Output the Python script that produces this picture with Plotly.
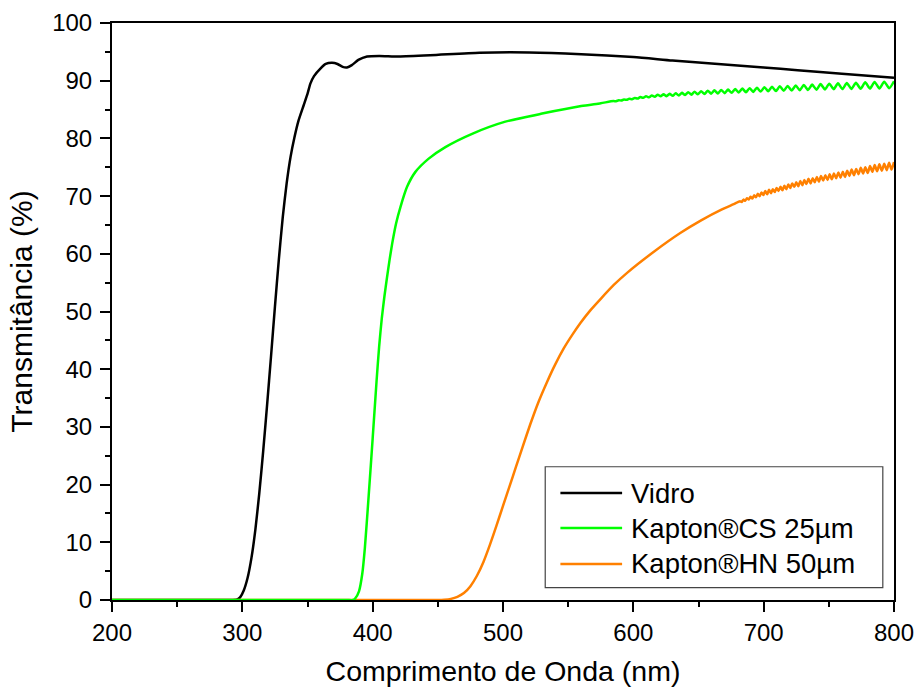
import plotly.graph_objects as go

# ---------------- data ----------------
series_names = ["Vidro", "Kapton®CS 25µm", "Kapton®HN 50µm"]
series_colors = ["#000000", "#00FF00", "#FF8000"]

vidro_wl = [200, 250, 290, 296, 298.4, 301, 304, 307, 310, 313, 316, 319, 322,
            325, 328, 331, 334, 337, 340, 343, 347, 350.1, 352.2, 355, 359.9,
            364, 368.8, 373, 377, 380.3, 384, 389, 395.7, 405, 420, 444, 482,
            520, 560, 600, 630, 660, 700, 726, 760, 800]
vidro_t = [0, 0, 0, 0.1, 0.5, 1.6, 3.8, 7.3, 12.2, 18.5, 25.8, 33.8, 42.2,
           50.8, 59.0, 66.3, 72.2, 76.8, 80.2, 83.0, 85.7, 87.8, 89.5, 90.8, 92.1,
           92.9, 93.1, 92.9, 92.4, 92.3, 92.7, 93.6, 94.2, 94.3, 94.2, 94.4, 94.85,
           94.9, 94.6, 94.1, 93.5, 93.0, 92.3, 91.8, 91.2, 90.5]

cs_wl = [200, 300, 380, 385, 386.7, 389.5, 392, 394, 396.7, 400, 403, 405, 407,
         409, 411, 413, 415, 418, 421.3, 426.4, 432.8, 443, 455.8, 476.3, 501.8,
         530, 560, 575,
         584.8, 586.8, 588.8, 590.8, 592.8, 594.85, 596.9, 599.0, 601.1, 603.25,
         605.4, 607.6, 609.8, 612.0, 614.2, 616.45, 618.7, 620.95,
         623.2, 625.5, 627.8, 630.2, 632.5, 634.9, 637.3, 639.7, 642.1, 644.6,
         647.0, 649.5, 652.0, 654.6, 657.1, 659.7, 662.2, 664.8, 667.4, 670.1,
         672.7, 675.4, 678.1, 680.9, 683.6, 686.4, 689.2, 692.0, 694.8, 697.7,
         700.6, 703.5, 706.4, 709.4, 712.4, 715.4, 718.4, 721.5, 724.6, 727.7,
         730.8, 734.0, 737.2, 740.5, 743.7, 747.0, 750.3, 753.7, 757.0, 760.4,
         763.8, 767.3, 770.8, 774.4, 777.9, 781.5, 785.1, 788.8, 792.5, 796.3, 800]
cs_t = [0, 0, 0, 0, 0.3, 1.5, 4.5, 9, 17.3, 28, 38, 44, 48.8,
        52.6, 55.9, 59.0, 61.8, 65.3, 68.1, 71.6, 74.2, 76.5, 78.5, 80.8, 82.9,
        84.3, 85.6, 86.1,
        86.47, 86.45, 86.61, 86.57, 86.74, 86.69, 86.88, 86.80, 87.01, 86.90,
        87.16, 87.03, 87.30, 87.13, 87.43, 87.22, 87.57, 87.31,
        87.64, 87.32, 87.72, 87.39, 87.82, 87.45, 87.90, 87.51, 88.00, 87.58,
        88.09, 87.64, 88.18, 87.70, 88.26, 87.75, 88.33, 87.80, 88.40, 87.84,
        88.47, 87.89, 88.56, 87.95, 88.63, 88.01, 88.71, 88.05, 88.79, 88.11,
        88.88, 88.17, 88.94, 88.20, 89.02, 88.25, 89.09, 88.30, 89.17, 88.35,
        89.25, 88.39, 89.32, 88.45, 89.41, 88.49, 89.48, 88.53, 89.54, 88.55,
        89.60, 88.58, 89.65, 88.61, 89.72, 88.63, 89.78, 88.65, 89.83, 88.69, 89.9]

hn_wl = [200, 300, 440, 450, 455, 460, 465, 470, 475, 480, 485, 490, 495, 500,
         505, 510, 515, 521, 527, 533.8, 540, 546.6, 553, 559.4, 567, 575, 585,
         595.2, 616, 636, 652, 668, 677,
         681.8, 683.15, 684.5, 685.85, 687.2, 688.55, 689.9, 691.3, 692.7, 694.1,
         695.5, 696.9, 698.3, 699.75,
         701.2, 702.7, 704.1, 705.6, 707.0, 708.5, 709.9, 711.4, 712.9, 714.4,
         715.9, 717.4, 718.9, 720.4, 721.9, 723.5, 725.0, 726.6, 728.1, 729.7,
         731.2, 732.8, 734.4, 736.0, 737.6, 739.2, 740.8, 742.4, 744.0, 745.7,
         747.3, 749.0, 750.6, 752.3, 753.9, 755.6, 757.3, 759.0, 760.7, 762.4,
         764.1, 765.8, 767.5, 769.3, 771.0, 772.8, 774.5, 776.3, 778.0, 779.8,
         781.6, 783.4, 785.2, 787.0, 788.8, 790.7, 792.5, 794.4, 796.25, 798.1, 800]
hn_t = [0, 0, 0, 0, 0.05, 0.2, 0.55, 1.2, 2.4, 4.2, 6.6, 9.6, 12.9, 16.3,
        19.7, 23.1, 26.5, 30.5, 34.2, 37.8, 40.8, 43.6, 45.9, 48.0, 50.2, 52.2, 54.6,
        56.7, 60.4, 63.6, 65.8, 67.7, 68.6,
        69.11, 68.99, 69.39, 69.19, 69.63, 69.39, 69.88, 69.58, 70.14, 69.78,
        70.39, 69.98, 70.64, 70.18,
        70.9, 70.3, 71.1, 70.5, 71.2, 70.7, 71.4, 70.9, 71.6, 71.0,
        71.8, 71.2, 72.0, 71.4, 72.2, 71.6, 72.4, 71.7, 72.6, 71.9,
        72.8, 72.1, 73.0, 72.2, 73.1, 72.4, 73.3, 72.5, 73.5, 72.7,
        73.6, 72.8, 73.8, 72.9, 73.9, 73.1, 74.1, 73.2, 74.2, 73.3,
        74.4, 73.5, 74.6, 73.6, 74.7, 73.8, 74.9, 73.9, 75.0, 74.0,
        75.2, 74.2, 75.4, 74.3, 75.5, 74.4, 75.6, 74.5, 75.8, 74.6, 75.9]

x_ticks = [200, 300, 400, 500, 600, 700, 800]
y_ticks = [0, 10, 20, 30, 40, 50, 60, 70, 80, 90, 100]
x_title = "Comprimento de Onda (nm)"
y_title = "Transmitância (%)"

FONT = "Liberation Sans, Arial, sans-serif"

fig = go.Figure()
data = [(vidro_wl, vidro_t, 0), (hn_wl, hn_t, 2), (cs_wl, cs_t, 1)]
for wl, t, i in data:
    fig.add_trace(go.Scatter(
        x=wl, y=t, mode="lines", name=series_names[i],
        line=dict(color=series_colors[i], width=2.5, shape="spline", smoothing=0.6),
        showlegend=False, hoverinfo="skip"))

# manual legend (box, sample lines, labels) in paper coordinates
leg_rows_y = [0.1853, 0.1247, 0.0624]
shapes = [dict(type="rect", xref="paper", yref="paper", x0=0.554, x1=0.9857,
               y0=0.0213, y1=0.2309, line=dict(color="#444444", width=1.2),
               fillcolor="white", layer="above")]
annotations = []
for i in range(3):
    shapes.append(dict(type="line", xref="paper", yref="paper", x0=0.5734, x1=0.6523,
                       y0=leg_rows_y[i], y1=leg_rows_y[i],
                       line=dict(color=series_colors[i], width=2.5), layer="above"))
    annotations.append(dict(xref="paper", yref="paper", x=0.6605, y=leg_rows_y[i],
                            xanchor="left", yanchor="middle", showarrow=False,
                            text=series_names[i],
                            font=dict(family=FONT, size=27.5, color="black")))

axis_common = dict(
    showline=True, linecolor="black", linewidth=2, mirror=True,
    ticks="outside", ticklen=10, tickwidth=2, tickcolor="black",
    showgrid=False, zeroline=False, layer="below traces",
    tickfont=dict(family=FONT, size=24, color="black"),
)

fig.update_layout(
    width=917, height=691,
    margin=dict(l=112, r=23, t=23, b=91, autoexpand=False),
    paper_bgcolor="white", plot_bgcolor="white",
    font=dict(family=FONT, color="black"),
    shapes=shapes, annotations=annotations,
    xaxis=dict(range=[200, 800], tickvals=x_ticks,
               minor=dict(ticks="outside", ticklen=5, tickwidth=2, dtick=50,
                          tickcolor="black", showgrid=False),
               title=dict(text=x_title, font=dict(family=FONT, size=28.5, color="black"),
                          standoff=16),
               **axis_common),
    yaxis=dict(range=[0, 100], tickvals=y_ticks, ticklabelstandoff=3,
               minor=dict(ticks="outside", ticklen=5, tickwidth=2, dtick=5,
                          tickcolor="black", showgrid=False),
               title=dict(text=y_title, font=dict(family=FONT, size=30, color="black"),
                          standoff=11),
               **axis_common),
)

fig.write_html("out.html")
